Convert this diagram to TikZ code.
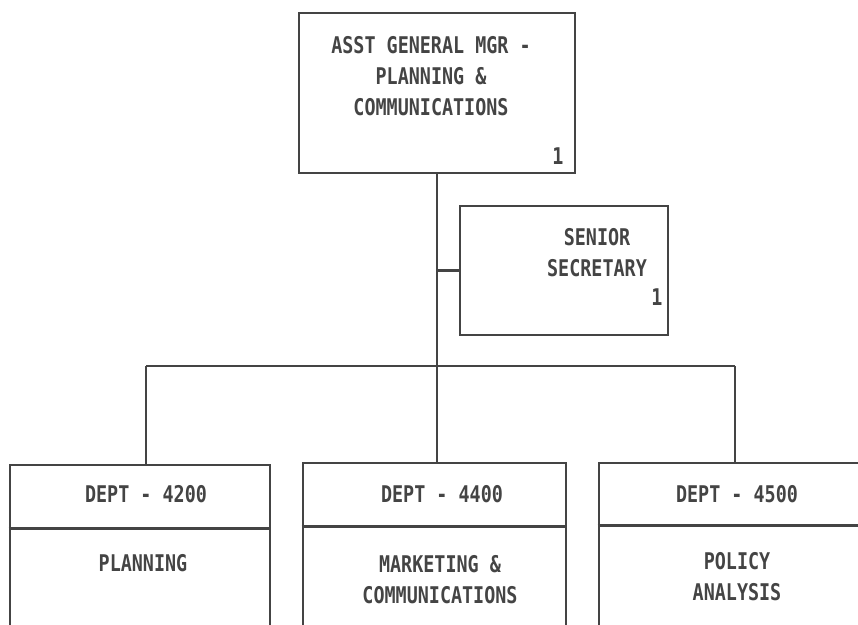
\documentclass[tikz,border=0pt]{standalone}
\usepackage{fontspec}
\newfontfamily\dotfont[FakeStretch=0.8]{DejaVu Sans Mono}
\definecolor{ink}{HTML}{444444}

\begin{document}
\begin{tikzpicture}[
  x=1pt, y=-1pt,
  font=\dotfont\bfseries\fontsize{23}{31}\selectfont,
  box/.style={draw=ink, line width=2.6pt, inner sep=0pt},
  lbl/.style={text=ink, inner sep=0pt, align=center},
  line/.style={draw=ink, line width=2.6pt}
]
\fill[white] (0,0) rectangle (858,624);
\useasboundingbox (0,0) rectangle (858,624);

% boxes
\node[box, minimum width=276pt, minimum height=160pt] (agm) at (437,93) {};
\node[box, minimum width=208pt, minimum height=129pt] (sec) at (564,270.5) {};
\node[box, minimum width=260pt, minimum height=180pt] (plan) at (140,555) {};
\node[box, minimum width=263pt, minimum height=180pt] (mkt) at (434.5,553) {};
\node[box, minimum width=263pt, minimum height=180pt] (pol) at (730.5,553) {};

% texts
\node[lbl] (agmt) at (431,76) {ASST GENERAL MGR -\\PLANNING \&\\COMMUNICATIONS};
\node[lbl] (agmn) at (558,156) {1};
\node[lbl] (sect) at (597,253) {SENIOR\\SECRETARY};
\node[lbl] (secn) at (657,297) {1};
\node[lbl] (plant) at (146,494) {DEPT - 4200};
\node[lbl] (planb) at (143,563) {PLANNING};
\node[lbl] (mktt) at (442,494) {DEPT - 4400};
\node[lbl] (mktb) at (440,580) {MARKETING \&\\COMMUNICATIONS};
\node[lbl] (polt) at (737,494) {DEPT - 4500};
\node[lbl] (polb) at (737,577) {POLICY\\ANALYSIS};

% header rules
\draw[line] ([yshift=-65pt]plan.north west) -- ([yshift=-65pt]plan.north east);
\draw[line] ([yshift=-65pt]mkt.north west) -- ([yshift=-65pt]mkt.north east);
\draw[line] ([yshift=-64pt]pol.north west) -- ([yshift=-64pt]pol.north east);

% connectors
\coordinate (j) at (437,366);
\coordinate (jl) at (146,366);
\coordinate (jr) at (735,366);
\draw[line] (agm.south) -- (j);
\draw[line] (j |- sec.west) -- (sec.west);
\draw[line] (jl) -- (jr);
\draw[line] (jl) -- (jl |- plan.north);
\draw[line] (j) -- (j |- mkt.north);
\draw[line] (jr) -- (jr |- pol.north);
\end{tikzpicture}
\end{document}
